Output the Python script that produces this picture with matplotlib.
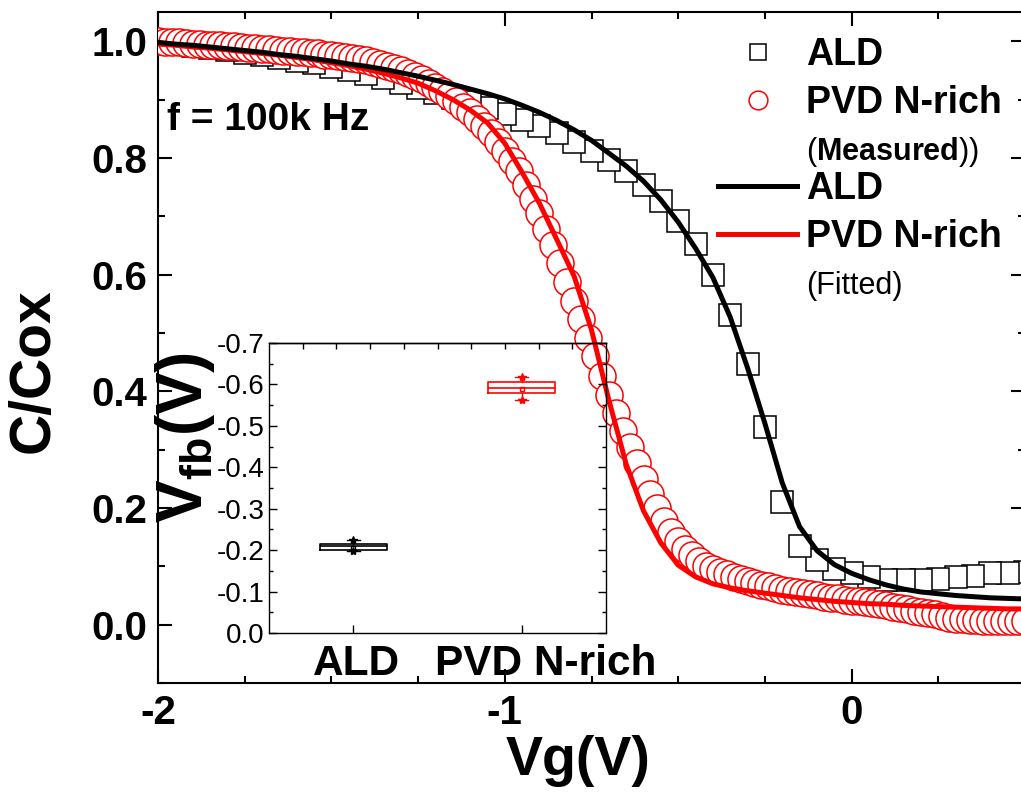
import numpy as np
import matplotlib
matplotlib.use('Agg')
import matplotlib.pyplot as plt
from matplotlib.lines import Line2D
from matplotlib.ticker import MultipleLocator

plt.rcParams['font.family'] = ['Liberation Sans', 'DejaVu Sans']
plt.rcParams['mathtext.fontset'] = 'custom'
plt.rcParams['mathtext.rm'] = 'Liberation Sans'
plt.rcParams['mathtext.bf'] = 'Liberation Sans:bold'
plt.rcParams['mathtext.it'] = 'Liberation Sans:italic'
plt.rcParams['axes.unicode_minus'] = False

# ---------------- data ----------------
# ALD measured (squares), Vg sweep step 0.05 V from -2.0 to 0.5
ald_vg = np.round(np.arange(-2.0, 0.5001, 0.05), 2)
ald_meas = [0.998, 0.996, 0.992, 0.989, 0.985, 0.980, 0.976, 0.972, 0.966, 0.962,
            0.956, 0.951, 0.943, 0.937, 0.929, 0.920, 0.912, 0.903, 0.895, 0.885,
            0.875, 0.865, 0.854, 0.842, 0.828, 0.812, 0.796, 0.777, 0.754, 0.726,
            0.692, 0.652, 0.599, 0.531, 0.447, 0.338, 0.211, 0.134, 0.110, 0.096,
            0.088, 0.081, 0.077, 0.076, 0.077, 0.079, 0.081, 0.084, 0.088, 0.089, 0.091]

# PVD N-rich measured (circles), Vg sweep step 0.02 V from -2.0 to 0.5
pvd_vg = np.round(np.arange(-2.0, 0.5001, 0.02), 2)
pvd_meas = [1.000, 0.999, 0.998, 0.998, 0.997, 0.996, 0.995, 0.994, 0.993, 0.993,
            0.992, 0.991, 0.990, 0.989, 0.988, 0.987, 0.986, 0.985, 0.984, 0.983,
            0.982, 0.981, 0.980, 0.979, 0.977, 0.976, 0.975, 0.973, 0.971, 0.969,
            0.967, 0.964, 0.961, 0.957, 0.954, 0.950, 0.946, 0.941, 0.936, 0.929,
            0.922, 0.914, 0.906, 0.897, 0.888, 0.878, 0.867, 0.855, 0.842, 0.828,
            0.812, 0.795, 0.777, 0.753, 0.729, 0.705, 0.678, 0.650, 0.620, 0.588,
            0.555, 0.523, 0.492, 0.460, 0.427, 0.393, 0.362, 0.332, 0.304, 0.277,
            0.250, 0.224, 0.200, 0.178, 0.159, 0.143, 0.130, 0.119, 0.109, 0.101,
            0.095, 0.090, 0.086, 0.082, 0.078, 0.074, 0.071, 0.068, 0.066, 0.063,
            0.060, 0.058, 0.056, 0.054, 0.052, 0.050, 0.048, 0.046, 0.045, 0.043,
            0.041, 0.040, 0.038, 0.037, 0.036, 0.034, 0.031, 0.029, 0.027, 0.024,
            0.022, 0.020, 0.018, 0.015, 0.012, 0.010, 0.009, 0.008, 0.008, 0.007,
            0.007, 0.007, 0.006, 0.006, 0.006, 0.006]

# fitted curves, read every 0.05 V
fit_vg = ald_vg
ald_fit = [0.998, 0.995, 0.993, 0.990, 0.987, 0.984, 0.981, 0.977, 0.974, 0.970,
           0.966, 0.961, 0.957, 0.952, 0.946, 0.940, 0.933, 0.926, 0.918, 0.910,
           0.901, 0.890, 0.878, 0.864, 0.848, 0.830, 0.808, 0.786, 0.760, 0.728,
           0.690, 0.645, 0.595, 0.527, 0.440, 0.345, 0.243, 0.168, 0.127, 0.103,
           0.088, 0.077, 0.068, 0.061, 0.056, 0.053, 0.050, 0.048, 0.046, 0.045, 0.044]
pvd_fit = [0.995, 0.993, 0.990, 0.988, 0.985, 0.982, 0.979, 0.976, 0.972, 0.968,
           0.963, 0.958, 0.952, 0.945, 0.937, 0.928, 0.915, 0.900, 0.882, 0.860,
           0.825, 0.775, 0.722, 0.660, 0.597, 0.505, 0.385, 0.275, 0.195, 0.140,
           0.102, 0.082, 0.070, 0.063, 0.058, 0.054, 0.050, 0.046, 0.043, 0.040,
           0.038, 0.036, 0.035, 0.033, 0.032, 0.031, 0.030, 0.029, 0.028, 0.027, 0.027]

# inset: flat-band voltage box statistics
inset_labels = ['ALD', 'PVD N-rich']
inset_colors = ['black', 'red']
inset_q1 = [-0.2006, -0.580]
inset_med = [-0.210, -0.591]
inset_q3 = [-0.215, -0.606]
inset_lo = [-0.199, -0.563]
inset_hi = [-0.225, -0.618]
inset_mean = [-0.206, -0.590]

# ---------------- figure ----------------
W, H = 1021, 794
fig = plt.figure(figsize=(W / 100, H / 100), dpi=100)
ax = fig.add_axes([158 / W, 1 - 683 / H, (1025 - 158) / W, (683 - 12) / H])

ax.plot(ald_vg[::-1], ald_meas[::-1], ls='none', marker='s', ms=16, mfc='white',
        mec='black', mew=1.1, zorder=2)
ax.plot(pvd_vg, pvd_meas, ls='none', marker='o', ms=19.5, mfc='white',
        mec='red', mew=1.1, zorder=3)
ax.plot(fit_vg, pvd_fit, color='red', lw=3.6, zorder=4)
ax.plot(fit_vg, ald_fit, color='black', lw=3.6, zorder=5)

ax.set_xlim(-2, 0.5)
ax.set_ylim(-0.1, 1.05)
ax.xaxis.set_major_locator(MultipleLocator(1))
ax.xaxis.set_minor_locator(MultipleLocator(0.25))
ax.yaxis.set_major_locator(MultipleLocator(0.2))
ax.yaxis.set_minor_locator(MultipleLocator(0.1))
ax.tick_params(which='both', direction='in', top=True, right=True, width=1.5)
ax.tick_params(which='major', length=10, labelsize=29, pad=8)
ax.tick_params(which='minor', length=5)
for lbl in ax.get_xticklabels() + ax.get_yticklabels():
    lbl.set_fontweight('bold')
for sp in ax.spines.values():
    sp.set_linewidth(1.5)

ax.set_xlabel('Vg(V)', fontsize=40, fontweight='bold')
ax.xaxis.set_label_coords(0.484, -0.0775)
ax.set_ylabel('C/Cox', fontsize=41, fontweight='bold')
ax.yaxis.set_label_coords(-0.112, 0.466)

ax.text(0.0104, 0.839, 'f = 100k Hz', transform=ax.transAxes, fontsize=28,
        fontweight='bold', ha='left', va='center')

# legends (measured / fitted)
h_sq = Line2D([], [], ls='none', marker='s', ms=12, mfc='white', mec='black', mew=1.1)
h_ci = Line2D([], [], ls='none', marker='o', ms=13.5, mfc='white', mec='red', mew=1.1)
h_blank = Line2D([], [], ls='none')
h_bl = Line2D([], [], color='black', lw=3.6)
h_rd = Line2D([], [], color='red', lw=3.6)
leg_kw = dict(loc='upper left', bbox_transform=fig.transFigure, frameon=False,
              prop=dict(size=27, weight='bold'), handlelength=79 / 37.5,
              handletextpad=9 / 37.5, labelspacing=0.33, borderpad=0, borderaxespad=0)
legA = ax.legend([h_sq, h_ci, h_blank], ['ALD', 'PVD N-rich', r'($\mathbf{Measured}$))'],
                 bbox_to_anchor=(718 / W, 1 - 37 / H), **leg_kw)
ax.add_artist(legA)
legB = ax.legend([h_bl, h_rd, h_blank], ['ALD', 'PVD N-rich', '(Fitted)'],
                 bbox_to_anchor=(718 / W, 1 - 171 / H), **leg_kw)
for lg in (legA, legB):
    t = lg.get_texts()[2]
    t.set_fontsize(22)
    t.set_fontweight('normal')

# ---------------- inset ----------------
axi = fig.add_axes([269 / W, 1 - 633 / H, (606 - 269) / W, (633 - 343) / H])
axi.patch.set_alpha(0)
for k in range(len(inset_labels)):
    c = inset_colors[k]
    st = [dict(med=inset_med[k], q1=inset_q1[k], q3=inset_q3[k], whislo=inset_lo[k],
               whishi=inset_hi[k], mean=inset_mean[k], fliers=[inset_lo[k], inset_hi[k]],
               label=inset_labels[k])]
    axi.bxp(st, positions=[k + 1], widths=0.4, showmeans=True, showfliers=True,
            capwidths=0.08,
            boxprops=dict(color=c, lw=1.2), medianprops=dict(color=c, lw=1.2),
            whiskerprops=dict(color=c, lw=1), capprops=dict(color=c, lw=1),
            flierprops=dict(marker='*', mec=c, mfc=c, ms=6, ls='none'),
            meanprops=dict(marker='s', mec=c, mfc='none', ms=3.5))
axi.set_xlim(0.5, 2.5)
axi.set_ylim(0, -0.7)
# ticks at the two categories, labels drawn from minor ticks (label of PVD sits right of its tick)
axi.set_xticks([1, 2])
axi.set_xticklabels(['', ''])
axi.set_xticks([1.02, 2.14], minor=True)
axi.set_xticklabels(inset_labels, minor=True, fontsize=30.5, fontweight='bold')
axi.yaxis.set_major_locator(MultipleLocator(0.1))
axi.yaxis.set_minor_locator(MultipleLocator(0.05))
axi.tick_params(which='both', direction='in', right=True, width=1)
axi.tick_params(which='major', length=6)
axi.tick_params(which='minor', length=3)
axi.tick_params(axis='x', which='minor', length=0, pad=8)
axi.tick_params(axis='y', labelsize=20)
sec = axi.secondary_xaxis('top')
sec.set_xticks([0.7, 0.9, 1.1, 1.3, 1.5, 1.7, 1.9, 2.1, 2.3])
sec.set_xticklabels([])
sec.tick_params(direction='in', length=4, width=1)
for sp in list(axi.spines.values()) + list(sec.spines.values()):
    sp.set_linewidth(1)
axi.set_ylabel(r'V$_{\mathbf{fb}}$(V)', fontsize=46, fontweight='bold')
axi.yaxis.set_label_coords(-0.154, 0.676)

fig.savefig('out.png', dpi=100)
